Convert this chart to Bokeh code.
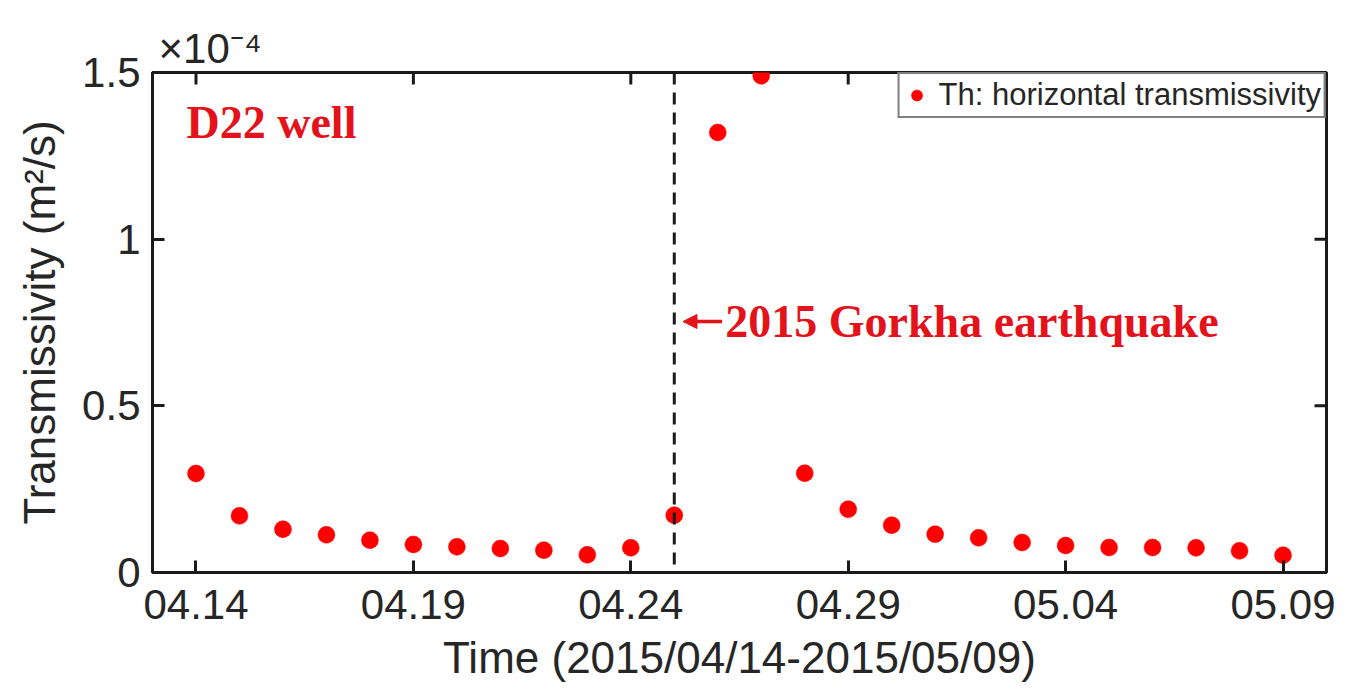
from datetime import datetime

from bokeh.plotting import figure
from bokeh.models import (Range1d, FixedTicker, DatetimeTickFormatter, Span, Label, Arrow,
                          NormalHead, Legend, LegendItem, ColumnDataSource, Title)
from bokeh.embed import file_html
from bokeh.resources import INLINE

# Daily horizontal transmissivity at the D22 well (units of 1e-4 m^2/s)
dates = ["2015-04-14", "2015-04-15", "2015-04-16", "2015-04-17", "2015-04-18",
         "2015-04-19", "2015-04-20", "2015-04-21", "2015-04-22", "2015-04-23",
         "2015-04-24", "2015-04-25", "2015-04-26", "2015-04-27", "2015-04-28",
         "2015-04-29", "2015-04-30", "2015-05-01", "2015-05-02", "2015-05-03",
         "2015-05-04", "2015-05-05", "2015-05-06", "2015-05-07", "2015-05-08",
         "2015-05-09"]
th = [0.297, 0.170, 0.130, 0.113, 0.097, 0.084, 0.077, 0.072, 0.067, 0.053,
      0.074, 0.172, 1.32, 1.49, 0.298, 0.190, 0.142, 0.115, 0.104, 0.090,
      0.081, 0.075, 0.075, 0.074, 0.065, 0.052]

x_tick_dates = ["2015-04-14", "2015-04-19", "2015-04-24", "2015-04-29", "2015-05-04", "2015-05-09"]
y_ticks = [0, 0.5, 1, 1.5]
y_tick_labels = ["0", "0.5", "1", "1.5"]
quake_date = "2015-04-25"
x_start, x_end = "2015-04-13", "2015-05-10"
y_min, y_max = 0, 1.5

EPOCH = datetime(1970, 1, 1)


def ms(s):
    return (datetime.strptime(s, "%Y-%m-%d") - EPOCH).total_seconds() * 1000.0


DAY = 86400000.0
SANS = "Liberation Sans"
SERIF = "Liberation Serif"
INK = "#262626"
AXIS = "#1a1a1a"
RED_TEXT = "#e3121b"
TICK_LEN = 12
W, H = 1352, 698
BORDER_L, BORDER_R, BORDER_T, BORDER_B = 152, 26, 72, 126
FRAME_W, FRAME_H = W - BORDER_L - BORDER_R, H - BORDER_T - BORDER_B

src = ColumnDataSource(data=dict(t=[ms(d) for d in dates], th=th))

p = figure(width=W, height=H, output_backend="svg", toolbar_location=None,
           x_axis_type="datetime",
           x_range=Range1d(ms(x_start), ms(x_end)), y_range=Range1d(y_min, y_max),
           min_border_left=BORDER_L, min_border_right=BORDER_R, min_border_top=BORDER_T,
           min_border_bottom=BORDER_B)
p.background_fill_color = "white"
p.border_fill_color = "white"
p.outline_line_color = AXIS
p.outline_line_width = 3
p.grid.visible = False

# scale exponent shown above the y axis
p.title = Title(text="×10⁻⁴", align="left", offset=6, standoff=2,
                text_font=SANS, text_font_size="42px", text_color=INK,
                text_font_style="normal")

fmt = "%m.%d"
xfmt = DatetimeTickFormatter(days=fmt, months=fmt, years=fmt, hours=fmt, hourmin=fmt,
                             minutes=fmt, minsec=fmt, seconds=fmt, milliseconds=fmt,
                             microseconds=fmt)


def style(ax):
    ax.axis_line_color = AXIS
    ax.axis_line_width = 3
    ax.major_tick_line_color = AXIS
    ax.major_tick_line_width = 3
    ax.major_tick_in = TICK_LEN
    ax.major_tick_out = 0
    ax.minor_tick_line_color = None
    ax.major_label_text_font = SANS
    ax.major_label_text_color = INK
    ax.axis_label_text_font = SANS
    ax.axis_label_text_color = INK
    ax.axis_label_text_font_style = "normal"


xa = p.xaxis[0]
xa.ticker = FixedTicker(ticks=[ms(d) for d in x_tick_dates])
xa.formatter = xfmt
style(xa)
xa.major_label_text_font_size = "42px"
xa.major_label_standoff = 17
xa.axis_label = "Time (2015/04/14-2015/05/09)"
xa.axis_label_text_font_size = "44px"
xa.axis_label_standoff = 11

ya = p.yaxis[0]
ya.ticker = FixedTicker(ticks=y_ticks)
ya.major_label_overrides = {float(v): lab for v, lab in zip(y_ticks, y_tick_labels)}
style(ya)
ya.major_label_text_font_size = "42px"
ya.major_label_standoff = 12
ya.axis_label = "Transmissivity (m²/s)"
ya.axis_label_text_font_size = "44px"
ya.axis_label_standoff = 15

# inward ticks on the top and right edges of the box
dy = (y_max - y_min) * TICK_LEN / FRAME_H
dx = (ms(x_end) - ms(x_start)) * TICK_LEN / FRAME_W
xt = [ms(d) for d in x_tick_dates]
p.segment(x0=xt, y0=[y_max] * len(xt), x1=xt, y1=[y_max - dy] * len(xt),
          line_color=AXIS, line_width=3)
p.segment(x0=[ms(x_end)] * len(y_ticks), y0=y_ticks,
          x1=[ms(x_end) - dx] * len(y_ticks), y1=y_ticks,
          line_color=AXIS, line_width=3)

# earthquake marker
p.add_layout(Span(location=ms(quake_date), dimension="height", line_color=AXIS,
                  line_width=3, line_dash="12 8"))

r = p.scatter("t", "th", source=src, size=17, fill_color="#ff0000", line_color="#ff0000",
              line_width=0.5)

legend = Legend(items=[LegendItem(label="Th: horizontal transmissivity", renderers=[r])],
                location="top_right", margin=0, padding=3, spacing=0,
                label_text_font=SANS, label_text_font_size="31px", label_text_color=INK,
                label_standoff=8, glyph_width=28, glyph_height=32,
                border_line_color="#000000", border_line_width=2.5,
                background_fill_color="white", background_fill_alpha=1)
p.add_layout(legend)

p.add_layout(Label(x=ms(x_start), y=y_max, x_offset=34, y_offset=-50, text="D22 well",
                   text_font=SERIF, text_font_style="bold", text_font_size="46px",
                   text_color=RED_TEXT, text_baseline="alphabetic"))

p.add_layout(Arrow(x_start=ms(quake_date) + 1.1 * DAY, y_start=0.753,
                   x_end=ms(quake_date) + 0.2 * DAY, y_end=0.753,
                   line_color=RED_TEXT, line_width=3.5,
                   end=NormalHead(size=14, fill_color=RED_TEXT, line_color=RED_TEXT)))
p.add_layout(Label(x=ms(quake_date), y=0.754, x_offset=51, text="2015 Gorkha earthquake",
                   text_font=SERIF, text_font_style="bold", text_font_size="46px",
                   text_color=RED_TEXT, text_baseline="alphabetic"))

open("out.html", "w").write(file_html(p, INLINE))
